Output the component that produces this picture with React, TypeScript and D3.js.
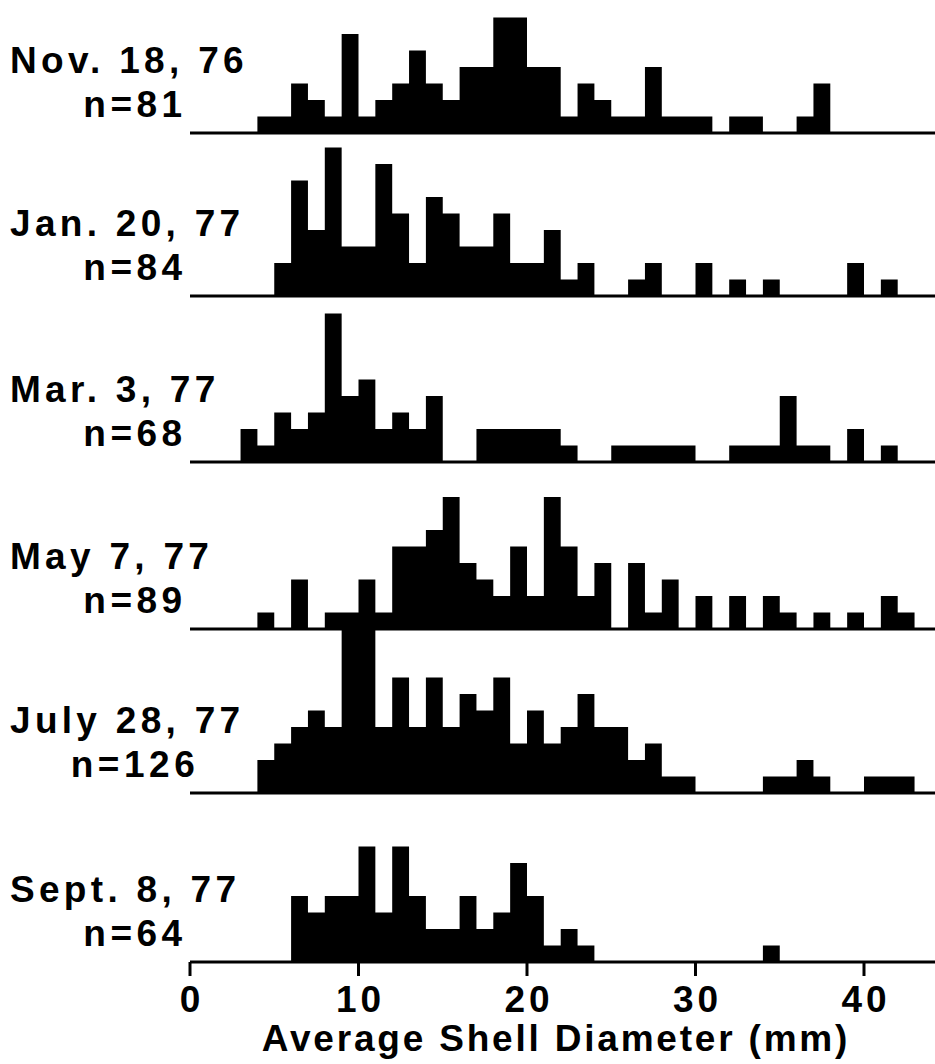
import React from "react";
import * as d3 from "d3";

// Counts per 1-mm bin, starting at 0 mm (bins 0..42)
const novCounts = [0,0,0,0,1,1,3,2,1,6,1,2,3,5,3,2,4,4,7,7,4,4,1,3,2,1,1,4,1,1,1,0,1,1,0,0,1,3,0,0,0,0,0];
const janCounts = [0,0,0,0,0,2,7,4,9,3,3,8,5,2,6,5,3,3,5,2,2,4,1,2,0,0,1,2,0,0,2,0,1,0,1,0,0,0,0,2,0,1,0];
const marCounts = [0,0,0,2,1,3,2,3,9,4,5,2,3,2,4,0,0,2,2,2,2,2,1,0,0,1,1,1,1,1,0,0,1,1,1,4,1,1,0,2,0,1,0];
const mayCounts = [0,0,0,0,1,0,3,0,1,1,3,1,5,5,6,8,4,3,2,5,2,8,5,2,4,0,4,1,3,0,2,0,2,0,2,1,0,1,0,1,0,2,1];
const julCounts = [0,0,0,0,2,3,4,5,4,10,10,4,7,4,7,4,6,5,7,3,5,3,4,6,4,4,2,3,1,1,0,0,0,0,1,1,2,1,0,0,1,1,1];
const sepCounts = [0,0,0,0,0,0,4,3,4,4,7,3,7,4,2,2,4,2,3,6,4,1,2,1,0,0,0,0,0,0,0,0,0,0,1,0,0,0,0,0,0,0,0];

const dateLabels = ["Nov. 18, 76", "Jan. 20, 77", "Mar. 3, 77", "May 7, 77", "July 28, 77", "Sept. 8, 77"];
const nLabels = ["n=81", "n=84", "n=68", "n=89", "n=126", "n=64"];
const xTicks = [0, 10, 20, 30, 40];
const axisTitle = "Average Shell Diameter (mm)";

const W = 935;
const H = 1064;
const baselines = [133, 296, 462, 629, 793, 962];
const unitPx = 16.5;
const FONT = "'Liberation Sans', Arial, Helvetica, sans-serif";

export default function App() {
  const allCounts = [novCounts, janCounts, marCounts, mayCounts, julCounts, sepCounts];
  const x = d3.scaleLinear().domain([0, 40]).range([190, 864]);
  const lastBase = baselines[baselines.length - 1];

  return (
    <svg width={W} height={H} style={{ position: "absolute", left: 0, top: 0, background: "#fff" }}>
      {allCounts.map((counts, i) => {
        const base = baselines[i];
        const y = d3.scaleLinear().domain([0, 10]).range([base, base - 10 * unitPx]);
        const pts: [number, number][] = counts.map((c, k) => [k, c] as [number, number]);
        pts.push([counts.length, 0]);
        const area = d3
          .area<[number, number]>()
          .x((d) => x(d[0]))
          .y0(base)
          .y1((d) => y(d[1]))
          .curve(d3.curveStepAfter);
        return (
          <g key={i}>
            <path d={area(pts) || ""} fill="#000" />
            <line x1={x(0)} x2={W} y1={base} y2={base} stroke="#000" strokeWidth={3} />
            <text
              x={10}
              y={base - 60}
              fontFamily={FONT}
              fontWeight={700}
              fontSize={37}
              letterSpacing={4.3}
              fill="#000"
            >
              {dateLabels[i]}
            </text>
            <text
              x={135}
              y={base - 16}
              textAnchor="middle"
              fontFamily={FONT}
              fontWeight={700}
              fontSize={37}
              letterSpacing={4.5}
              fill="#000"
            >
              {nLabels[i]}
            </text>
          </g>
        );
      })}
      {xTicks.map((t) => (
        <g key={t}>
          <line x1={x(t)} x2={x(t)} y1={lastBase} y2={lastBase + 14} stroke="#000" strokeWidth={3} />
          <text
            x={x(t) + 2}
            y={lastBase + 50}
            textAnchor="middle"
            fontFamily={FONT}
            fontWeight={700}
            fontSize={37}
            letterSpacing={4}
            fill="#000"
          >
            {t}
          </text>
        </g>
      ))}
      <text
        x={556}
        y={lastBase + 89}
        textAnchor="middle"
        fontFamily={FONT}
        fontWeight={700}
        fontSize={37}
        letterSpacing={2.8}
        fill="#000"
      >
        {axisTitle}
      </text>
    </svg>
  );
}
